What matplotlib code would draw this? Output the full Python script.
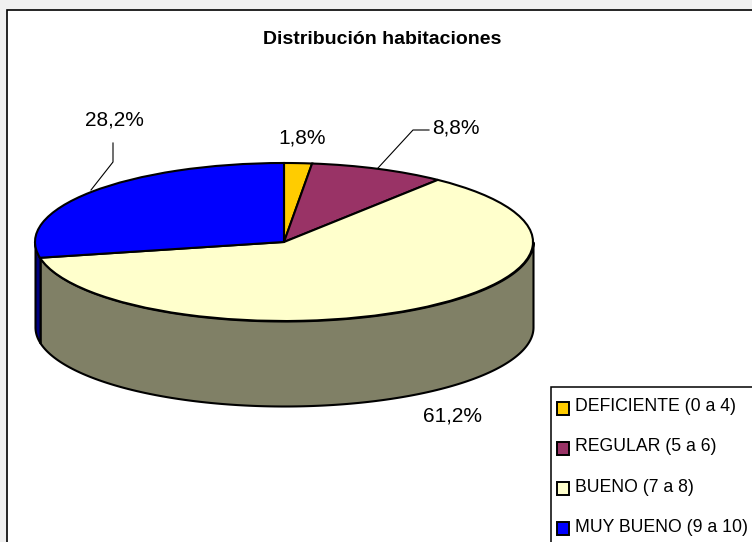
import numpy as np
import matplotlib
matplotlib.use("Agg")
import matplotlib.pyplot as plt
from matplotlib.patches import Rectangle

plt.rcParams['font.family'] = ['Liberation Sans', 'DejaVu Sans']

categories = ['DEFICIENTE (0 a 4)', 'REGULAR (5 a 6)', 'BUENO (7 a 8)', 'MUY BUENO (9 a 10)']
values = [1.8, 8.8, 61.2, 28.2]
value_labels = ['1,8%', '8,8%', '61,2%', '28,2%']
top_colors = ['#FFCC00', '#993366', '#FFFFCC', '#0000FF']
side_colors = ['#806600', '#4D1A33', '#808066', '#000080']
title = 'Distribución habitaciones'

W, H = 752, 542
cx, cy = 284, 242
rx, ry = 249, 79
depth = 85 / ry


def px(x, y):
    # pixeles de la imagen -> fraccion de figura
    return x / W, 1 - y / H


def guide(xs, ys):
    fig.add_artist(plt.Line2D([x / W for x in xs], [1 - y / H for y in ys],
                              color='black', linewidth=0.8))


fig = plt.figure(figsize=(W / 100, H / 100), dpi=100, facecolor='#F0F0F0')
ax = fig.add_axes([0, 0, 1, 1])
ax.set_facecolor('none')

# marco blanco del grafico
fig.add_artist(Rectangle((6.5, -10), W, H - 9.5 + 10, transform=None,
                         facecolor='white', edgecolor='black', linewidth=1.2, zorder=-1))

# lateral: de derecha a izquierda por la mitad inferior de la elipse
angles = np.cumsum([0] + values) * 3.6
bueno_end = np.radians(angles[3])
t1 = np.linspace(np.pi / 2, bueno_end, 200)
t2 = np.linspace(bueno_end, 3 * np.pi / 2, 30)
for t, c in [(t1, side_colors[2]), (t2, side_colors[3])]:
    xs = np.sin(t)
    ys = np.cos(t)
    ax.fill_between(xs, ys, ys - depth, facecolor=c, edgecolor='black', linewidth=1.5, zorder=1)

wedges, _ = ax.pie(values, colors=top_colors, startangle=90, counterclock=False, radius=1,
                   wedgeprops={'edgecolor': 'black', 'linewidth': 1.5})
for w in wedges:
    w.set_zorder(2)

ax.set_aspect('auto')
ax.set_xlim(-cx / rx, (W - cx) / rx)
ax.set_ylim((cy - H) / ry, cy / ry)
ax.axis('off')

fig.text(*px(382, 40), title, fontsize=14, fontweight='bold', ha='center', va='center')

label_pos = [(302, 138), (456, 128), (452, 416), (114, 120)]
for lab, (x, y) in zip(value_labels, label_pos):
    fig.text(*px(x, y), lab, fontsize=15, ha='center', va='center', color='black')

# lineas guia
guide([378, 413, 429], [168, 130, 130])
guide([91, 113, 113], [190, 162, 143])

# leyenda
fig.add_artist(Rectangle((550.5, -10), 300, H - 386.5 + 10, transform=None,
                         facecolor='white', edgecolor='black', linewidth=1.1, zorder=5))
for i, (name, c) in enumerate(zip(categories, top_colors)):
    y = 408 + i * 40.3
    fig.add_artist(Rectangle((557, H - y - 6.5), 11.5, 13, transform=None, facecolor=c,
                             edgecolor='black', linewidth=1.4, zorder=6))
    fig.text(*px(575, y - 1.5), name, fontsize=12.7, ha='left', va='center', color='black', zorder=6)

fig.savefig('out.png', dpi=100, facecolor=fig.get_facecolor())
